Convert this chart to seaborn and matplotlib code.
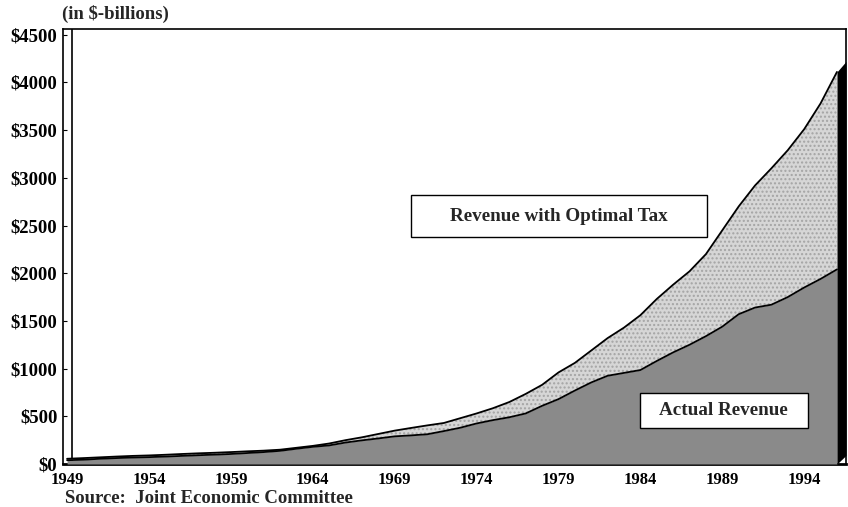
import matplotlib
matplotlib.use('Agg')
import matplotlib.pyplot as plt
from matplotlib.patches import Rectangle
import pandas as pd
import seaborn as sns

# values, $-billions
years = list(range(1949, 1997))
optimal_revenue = [55, 62, 70, 78, 85, 90, 97, 105, 112, 118,
                   125, 133, 140, 150, 170, 190, 215, 250, 280, 315,
                   350, 378, 405, 430, 480, 530, 585, 650, 735, 830,
                   960, 1060, 1190, 1320, 1430, 1560, 1730, 1880, 2020, 2200,
                   2450, 2700, 2920, 3100, 3290, 3510, 3780, 4110]
actual_revenue = [40, 45, 55, 62, 68, 72, 78, 85, 92, 98,
                  105, 115, 125, 138, 160, 180, 195, 225, 248, 268,
                  290, 300, 312, 345, 380, 425, 460, 490, 530, 610,
                  680, 770, 855, 925, 955, 985, 1080, 1170, 1250, 1340,
                  1440, 1570, 1640, 1670, 1750, 1850, 1940, 2040]
year_labels = [1949, 1954, 1959, 1964, 1969, 1974, 1979, 1984, 1989, 1994]
y_ticks = [0, 500, 1000, 1500, 2000, 2500, 3000, 3500, 4000, 4500]

df = pd.DataFrame({'year': years, 'optimal': optimal_revenue,
                   'actual': actual_revenue})

sns.set_theme(style='white')
plt.rcParams['font.family'] = ['Liberation Serif', 'DejaVu Serif']
plt.rcParams['font.weight'] = 'bold'

fig = plt.figure(figsize=(8.48, 5.07), dpi=100)
ax = fig.add_axes([0.0743, 0.0848, 0.9233, 0.858])

# back wall of the pseudo-3D frame
ax.axvline(1949.3, color='black', lw=1.2, zorder=1)

ax.fill_between(df['year'], df['actual'], df['optimal'],
                facecolor='#d6d6d6', edgecolor='#a4a4a4', hatch='....',
                lw=0, zorder=2)
ax.fill_between(df['year'], 0, df['actual'],
                facecolor='#8a8a8a', lw=0, zorder=3)
sns.lineplot(data=df, x='year', y='optimal', color='black', lw=1.3,
             ax=ax, zorder=4)
sns.lineplot(data=df, x='year', y='actual', color='black', lw=1.3,
             ax=ax, zorder=4)

# dark side face at the end of the series
last = df.iloc[-1]
ax.fill_between([last['year'], last['year'] + 0.55], [0, 90],
                [last['optimal'], last['optimal'] + 110],
                color='black', lw=0, zorder=5)

ax.set_xlim(1948.75, 1996.55)
ax.set_ylim(0, 4560)
ax.set_xticks(year_labels)
ax.set_xticklabels([str(y) for y in year_labels], fontsize=12,
                   fontweight='bold')
ax.set_yticks(y_ticks)
ax.set_yticklabels([f'${v}' for v in y_ticks], fontsize=13.5,
                   fontweight='bold')
ax.tick_params(axis='x', length=0, pad=6, colors='black')
ax.tick_params(axis='y', direction='in', length=3, width=0.8, pad=4,
               colors='black', left=True)
ax.set_xlabel('')
ax.set_ylabel('')
for side in ax.spines.values():
    side.set_color('black')
    side.set_linewidth(1.2)
ax.spines['bottom'].set_linewidth(2)

# label boxes
for x0, y0, w, h, cx, cy, label in [
        (0.444, 0.522, 0.379, 0.0966, 0.6335, 0.570,
         'Revenue with Optimal Tax'),
        (0.737, 0.0828, 0.2146, 0.0805, 0.844, 0.123, 'Actual Revenue')]:
    ax.add_patch(Rectangle((x0, y0), w, h, transform=ax.transAxes,
                           facecolor='white', edgecolor='black', lw=1,
                           zorder=6))
    ax.text(cx, cy, label, transform=ax.transAxes, ha='center',
            va='center', fontsize=13.8, fontweight='bold', zorder=7)

fig.text(0.073, 0.973, '(in $-billions)', ha='left', va='center',
         fontsize=13.5, fontweight='bold')
fig.text(0.077, 0.017, 'Source:  Joint Economic Committee', ha='left',
         va='center', fontsize=13.5, fontweight='bold')

fig.savefig('out.png', dpi=100)
